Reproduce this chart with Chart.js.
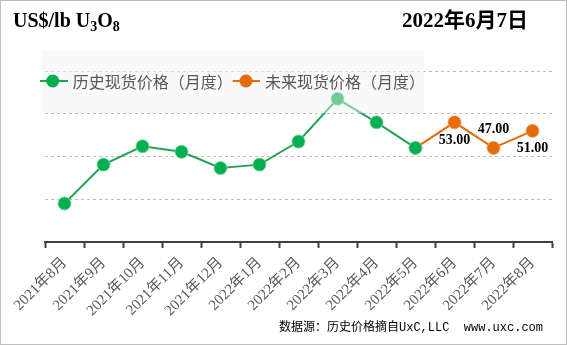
<!DOCTYPE html>
<html>
<head>
<meta charset="utf-8">
<script src="https://cdn.jsdelivr.net/npm/chart.js@4.4.0/dist/chart.umd.min.js"></script>
<style>
  html, body { margin: 0; padding: 0; background: #fff; }
  #wrap { position: relative; width: 567px; height: 345px; }
</style>
</head>
<body>
<div id="wrap"><canvas id="uxc_chart" width="567" height="345"></canvas></div>
<script>
// monthly categories
var months = ["2021年8月", "2021年9月", "2021年10月", "2021年11月", "2021年12月", "2022年1月",
    "2022年2月", "2022年3月", "2022年4月", "2022年5月", "2022年6月", "2022年7月", "2022年8月"];
// historical spot price (green)
var histPrices = [34.0, 43.1, 47.4, 46.1, 42.3, 43.1, 48.5, 58.5, 53.0, 47.0, null, null, null];
// future spot price (orange), starts at the last historical point
var futurePrices = [null, null, null, null, null, null, null, null, null, 47.0, 53.0, 47.0, 51.0];
var futureLabels = [null, null, null, null, null, null, null, null, null, null, "53.00", "47.00", "51.00"];
var seriesNames = ["历史现货价格（月度）", "未来现货价格（月度）"];

var GREEN = "#00b050";
var GREEN_LINE = "#23a455";
var ORANGE = "#e46c0a";

var serif = "'Liberation Serif', 'Times New Roman', 'Noto Sans CJK SC', serif";
var cjk = "'Noto Sans CJK SC', 'Noto Sans', sans-serif";

// titles, border, legend box and value labels
var decoPlugin = {
    id: 'deco',
    afterDatasetsDraw: function (chart) {
        var c = chart.ctx;
        var x = chart.scales.x, y = chart.scales.y;
        c.save();
        // value labels of future series
        c.font = "bold 14px " + serif;
        c.fillStyle = "#000";
        c.textAlign = "center";
        c.textBaseline = "middle";
        for (var i = 0; i < futureLabels.length; i++) {
            if (!futureLabels[i]) continue;
            var px = x.getPixelForValue(i);
            var py = y.getPixelForValue(futurePrices[i]);
            var dy = (i == 11) ? -19 : 18;
            c.fillText(futureLabels[i], px, py + dy);
        }
        // translucent legend box over the plot
        c.fillStyle = "rgba(242,242,242,0.45)";
        c.fillRect(42, 51, 382, 62);
        var items = [[40, 68, 52.7, 72.7, GREEN_LINE, GREEN], [232.7, 260, 246, 265, ORANGE, ORANGE]];
        c.font = "16px " + cjk;
        c.textAlign = "left";
        c.textBaseline = "middle";
        for (var k = 0; k < items.length; k++) {
            var it = items[k];
            c.strokeStyle = it[4];
            c.lineWidth = 2;
            c.beginPath();
            c.moveTo(it[0], 81);
            c.lineTo(it[1], 81);
            c.stroke();
            c.fillStyle = it[5];
            c.beginPath();
            c.arc(it[2], 81, 6.5, 0, Math.PI * 2);
            c.fill();
            c.fillStyle = "#595959";
            c.fillText(seriesNames[k], it[3], 82);
        }
        c.restore();
    },
    afterDraw: function (chart) {
        var c = chart.ctx;
        c.save();
        c.strokeStyle = "#bfbfbf";
        c.lineWidth = 1;
        c.strokeRect(0.5, 0.5, 566, 344);
        c.fillStyle = "#000";
        c.textBaseline = "alphabetic";
        c.textAlign = "left";
        // US$/lb U3O8
        var tx = 13;
        c.font = "bold 20px " + serif;
        c.fillText("US$/lb U", tx, 27);
        tx += c.measureText("US$/lb U").width;
        c.font = "bold 14px " + serif;
        c.fillText("3", tx, 31);
        tx += c.measureText("3").width;
        c.font = "bold 20px " + serif;
        c.fillText("O", tx, 27);
        tx += c.measureText("O").width;
        c.font = "bold 14px " + serif;
        c.fillText("8", tx, 31);
        // date
        c.font = "bold 21px " + serif;
        c.fillText("2022年6月7日", 402, 27);
        // source
        c.font = "12px 'Liberation Mono', 'Noto Sans CJK SC', monospace";
        c.textAlign = "right";
        c.textBaseline = "middle";
        c.fillText("数据源：历史价格摘自UxC,LLC  www.uxc.com", 543, 328);
        c.restore();
    }
};

var ctx = document.getElementById("uxc_chart");
var myChart = new Chart(ctx, {
    type: 'line',
    data: {
        labels: months,
        datasets: [{
            label: seriesNames[0],
            data: histPrices,
            borderColor: GREEN_LINE,
            borderWidth: 2,
            backgroundColor: GREEN,
            pointBackgroundColor: GREEN,
            pointBorderColor: "rgba(120,210,150,0.8)",
            pointBorderWidth: 1,
            pointRadius: 6.5,
            tension: 0
        }, {
            label: seriesNames[1],
            data: futurePrices,
            borderColor: ORANGE,
            borderWidth: 2,
            backgroundColor: ORANGE,
            pointBackgroundColor: ORANGE,
            pointBorderColor: "rgba(240,160,90,0.8)",
            pointBorderWidth: 1,
            pointRadius: 6.5,
            tension: 0
        }]
    },
    options: {
        responsive: false,
        animation: false,
        events: [],
        layout: {
            padding: { left: 45, right: 15, top: 71, bottom: 0 }
        },
        plugins: {
            legend: { display: false },
            tooltip: { enabled: false }
        },
        scales: {
            x: {
                offset: true,
                grid: {
                    offset: true,
                    drawOnChartArea: false,
                    drawTicks: true,
                    tickLength: 6,
                    tickColor: "#404040",
                    tickWidth: 2
                },
                border: { display: true, color: "#404040", width: 2 },
                ticks: {
                    minRotation: 45,
                    maxRotation: 45,
                    autoSkip: false,
                    padding: 6,
                    color: "#595959",
                    font: { family: serif, size: 15 }
                },
                afterFit: function (s) {
                    s.height = 103;
                    s.paddingLeft = 0;
                    s.paddingRight = 0;
                }
            },
            y: {
                min: 25,
                max: 65,
                ticks: { display: false, stepSize: 10 },
                grid: {
                    color: "#bfbfbf",
                    lineWidth: 1,
                    drawTicks: false
                },
                border: { display: false, dash: [3, 3] },
                afterFit: function (s) { s.width = 0; }
            }
        }
    },
    plugins: [decoPlugin]
});
</script>
</body>
</html>
